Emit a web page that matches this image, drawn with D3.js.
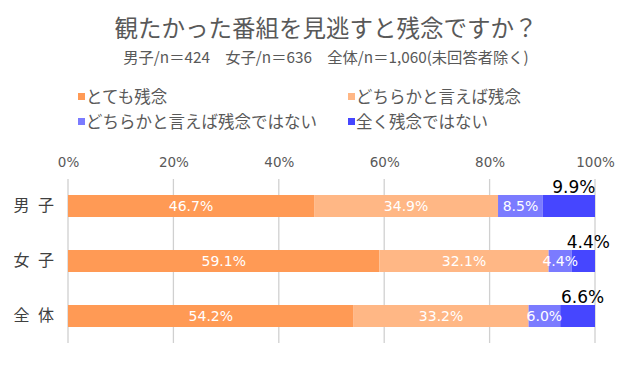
<!DOCTYPE html>
<html><head><meta charset="utf-8">
<script src="https://cdn.jsdelivr.net/npm/d3@7"></script>
<style>
body{margin:0;background:#fff;}
svg{display:block;}
</style></head>
<body><svg id="c" width="636" height="367"></svg>
<script>
const categories = ["男 子", "女 子", "全 体"];
const seriesNames = ["とても残念", "どちらかと言えば残念", "どちらかと言えば残念ではない", "全く残念ではない"];
const seriesColors = ["#FF9A55", "#FFB785", "#7B7BFF", "#4646FF"];
const veryDisappointed = [46.7, 59.1, 54.2];
const somewhatDisappointed = [34.9, 32.1, 33.2];
const notVeryDisappointed = [8.5, 4.4, 6.0];
const notAtAll = [9.9, 4.4, 6.6];
const tickValues = [0, 20, 40, 60, 80, 100];
const titleText = "観たかった番組を見逃すと残念ですか？";
const subtitleText = "男子/n＝424　女子/n＝636　全体/n＝1,060(未回答者除く)";

const series = [veryDisappointed, somewhatDisappointed, notVeryDisappointed, notAtAll];
const JP = "'Noto Sans CJK JP', sans-serif";
const svg = d3.select("#c");

const x = d3.scaleLinear().domain([0, 100]).range([68, 595]);
const y = d3.scaleBand().domain(categories).range([178.5, 343.5]).paddingInner(0.6).paddingOuter(0.3);

// title
svg.append("text").attr("x", 326).attr("y", 37).attr("text-anchor", "middle")
  .attr("font-family", JP).attr("font-size", 23.5).attr("fill", "#595959").text(titleText);
svg.append("text").attr("x", 326).attr("y", 63).attr("text-anchor", "middle")
  .attr("font-family", JP).attr("font-size", 15.3).attr("fill", "#595959").text(subtitleText);

// legend
const legPos = [[78, 97], [348, 97], [78, 122], [348, 122]];
seriesNames.forEach((n, i) => {
  const g = svg.append("g").attr("transform", `translate(${legPos[i][0]},${legPos[i][1]})`);
  g.append("rect").attr("x", 0).attr("y", -4).attr("width", 7).attr("height", 7).attr("fill", seriesColors[i]);
  g.append("text").attr("x", 8).attr("y", 0).attr("dy", "0.35em")
    .attr("font-family", JP).attr("font-size", 16.5).attr("fill", "#595959").text(n);
});

// gridlines
svg.append("g").selectAll("line").data(tickValues).join("line")
  .attr("x1", d => x(d)).attr("x2", d => x(d)).attr("y1", 179).attr("y2", 343)
  .attr("stroke", "#d0d0d0").attr("stroke-width", 1.3);

// top axis
const ax = svg.append("g").attr("transform", "translate(0,174)")
  .call(d3.axisTop(x).tickValues(tickValues).tickSize(0).tickPadding(7).tickFormat(d => d + "%"));
ax.select(".domain").remove();
ax.selectAll("text").attr("font-family", "'DejaVu Sans', sans-serif").attr("font-size", 13.5).attr("fill", "#595959");

// category axis
const ay = svg.append("g").attr("transform", "translate(54,0)")
  .call(d3.axisLeft(y).tickSize(0).tickPadding(0));
ay.select(".domain").remove();
ay.selectAll("text").attr("font-family", JP).attr("font-size", 16).attr("word-spacing", 5).attr("fill", "#404040");

// stacked bars
const rows = categories.map((c, i) => {
  let acc = 0;
  return series.map((s, k) => { const o = {cat: c, k, v: s[i], x0: acc, x1: acc + s[i]}; acc += s[i]; return o; });
});
const segs = rows.flat();
svg.append("g").selectAll("rect").data(segs).join("rect")
  .attr("x", d => x(d.x0)).attr("width", d => x(d.x1) - x(d.x0))
  .attr("y", d => y(d.cat)).attr("height", y.bandwidth())
  .attr("fill", d => seriesColors[d.k]);

// inside labels
svg.append("g").selectAll("text").data(segs.filter(d => d.k < 3)).join("text")
  .attr("x", d => x((d.x0 + d.x1) / 2)).attr("y", d => y(d.cat) + y.bandwidth() / 2)
  .attr("dy", "0.36em").attr("text-anchor", "middle")
  .attr("font-family", "'DejaVu Sans', sans-serif").attr("font-size", 14)
  .attr("fill", "#fff").text(d => d.v.toFixed(1) + "%");

// outside labels for last series
svg.append("g").selectAll("text").data(segs.filter(d => d.k === 3)).join("text")
  .attr("x", d => x((d.x0 + d.x1) / 2) + 5).attr("y", d => y(d.cat) - 2.5)
  .attr("text-anchor", "middle")
  .attr("font-family", "'DejaVu Sans', sans-serif").attr("font-size", 17)
  .attr("fill", "#000").text(d => d.v.toFixed(1) + "%");
</script></body></html>
